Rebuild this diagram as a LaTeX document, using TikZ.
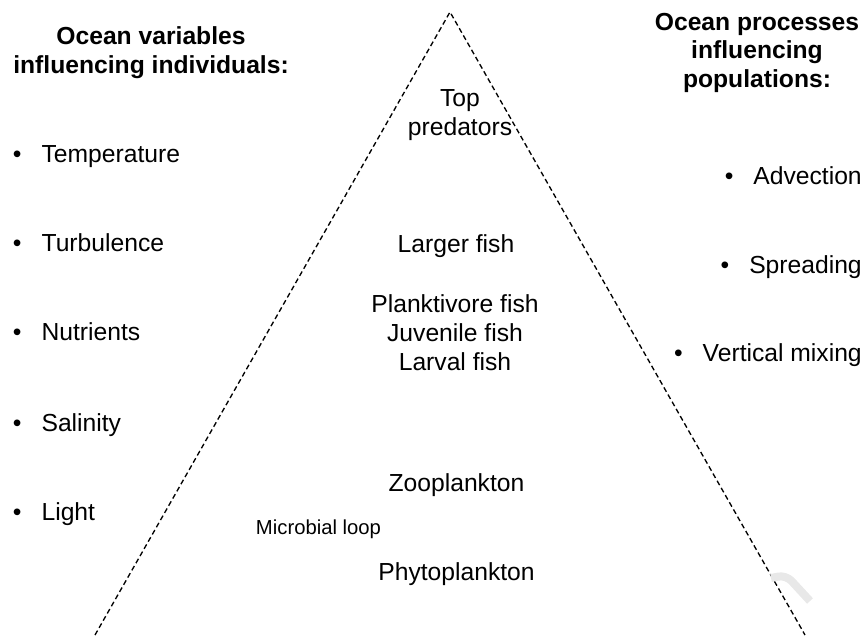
\documentclass[tikz,border=0pt]{standalone}
\usepackage{fontspec}
\setmainfont{Liberation Sans}
\usetikzlibrary{positioning}

\begin{document}
\begin{tikzpicture}[
  x=0.75pt, y=-0.75pt,
  txt/.style={font=\fontsize{18.5}{21.75}\selectfont, align=center, inner sep=0pt},
  head/.style={txt, font=\fontsize{18.5}{21.75}\selectfont\bfseries, anchor=base},
  item/.style={txt, anchor=base west},
  ritem/.style={txt, anchor=base east},
  level/.style={txt, anchor=base},
  small/.style={font=\fontsize{15.2}{18}\selectfont, inner sep=0pt, anchor=base},
  pyr/.style={line width=1pt, dash pattern=on 3.8pt off 2.4pt},
]
\useasboundingbox (0,0) rectangle (866,635);

% Pyramid
\coordinate (apex) at (450,12);
\coordinate (baseL) at (95,635);
\coordinate (baseR) at (805,635);
\draw[pyr] (baseL) -- (apex) -- (baseR);

% Headers
\node[head] (headL) at (151,73.3) {Ocean variables\\influencing individuals:};
\node[head] (headR) at (757,88) {Ocean processes\\influencing\\populations:};

% Variables (individuals)
\node[item] (temp) at (12.7,162) {\textbullet\hspace{15pt}Temperature};
\node[item] (turb) at (12.7,251) {\textbullet\hspace{15pt}Turbulence};
\node[item] (nutr) at (12.7,340) {\textbullet\hspace{15pt}Nutrients};
\node[item] (sal) at (12.7,431) {\textbullet\hspace{15pt}Salinity};
\node[item] (light) at (12.7,520) {\textbullet\hspace{15pt}Light};

% Processes (populations)
\node[ritem] (adv) at (862,184) {\textbullet\hspace{15pt}Advection};
\node[ritem] (spread) at (862,273) {\textbullet\hspace{15pt}Spreading};
\node[ritem] (vmix) at (862,361.7) {\textbullet\hspace{15pt}Vertical mixing};

% Food web levels
\node[level] (top) at (460,135) {Top\\predators};
\node[level] (large) at (456,252) {Larger fish};
\node[level] (plankt) at (455,370.7) {Planktivore fish\\Juvenile fish\\Larval fish};
\node[level] (zoo) at (456.5,491.7) {Zooplankton};
\node[small] (micro) at (318.5,534) {Microbial loop};
\node[level] (phyto) at (456.5,580) {Phytoplankton};

% faint mark
\draw[gray!18, line width=6pt, rounded corners=6pt] (771,578) -- (786,575) -- (810,601);
\end{tikzpicture}
\end{document}
